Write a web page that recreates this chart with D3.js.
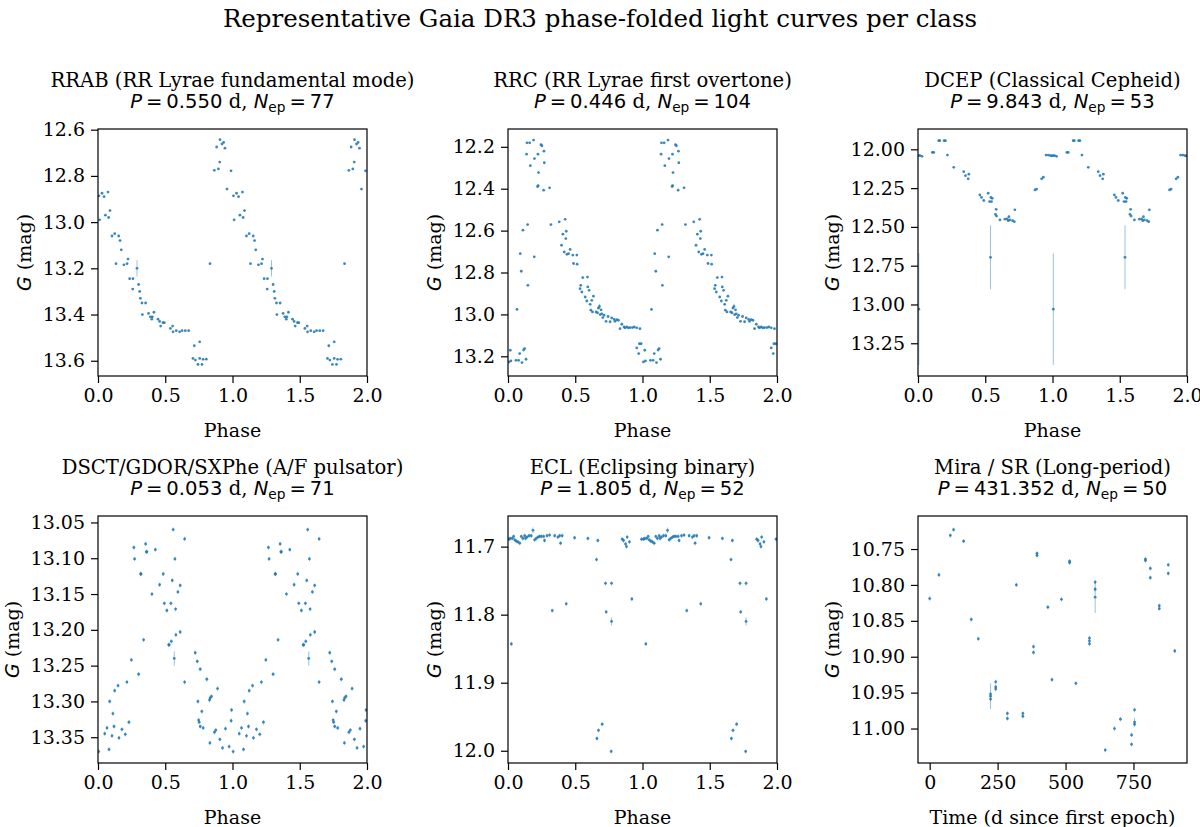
<!DOCTYPE html>
<html>
<head>
<meta charset="utf-8">
<script src="https://cdn.jsdelivr.net/npm/d3@7"></script>
<style>
  body { margin: 0; background: #fff; }
  svg { display: block; }
</style>
</head>
<body>
<svg id="fig" width="1200" height="827"></svg>
<script>
// ---- data: [phase (or time), G mag, error] ----
const rrabPoints = [
  [0.012,12.99],[0.007,12.886],[0.030,12.875],[0.045,12.89],[0.074,12.87],[0.055,12.97],
  [0.079,12.98],[0.089,12.95],[0.104,13.06],[0.124,13.05],[0.134,13.18],[0.154,13.06],
  [0.164,13.08],[0.173,13.12],[0.193,13.185],[0.216,13.18],[0.223,13.16],[0.235,13.245],
  [0.260,13.245],[0.258,13.29],[0.290,13.20,0.035],[0.302,13.27],[0.310,13.30],[0.315,13.33],
  [0.327,13.35],[0.354,13.35],[0.330,13.40],[0.376,13.395],[0.389,13.41],[0.404,13.41],
  [0.416,13.39],[0.400,13.42],[0.446,13.42],[0.458,13.43],[0.466,13.45],[0.483,13.435],
  [0.493,13.435],[0.538,13.46],[0.555,13.45],[0.558,13.475],[0.582,13.47],[0.607,13.475],
  [0.625,13.47],[0.649,13.47],[0.674,13.47],[0.716,13.535],[0.756,13.518],[0.706,13.59],
  [0.724,13.597],[0.743,13.616],[0.756,13.59],[0.773,13.616],[0.781,13.594],[0.805,13.593],
  [0.833,13.18],[0.865,12.776],[0.882,12.675],[0.895,12.77],[0.905,12.74],[0.907,12.643],
  [0.922,12.662],[0.934,12.655],[0.944,12.68],[0.959,12.857],[0.989,12.778]
];
const rrcPoints = [
  [0.017,13.171],[0.007,13.227],[0.022,13.222],[0.059,13.219],[0.067,12.976],[0.079,13.219],
  [0.087,13.187],[0.091,12.71],[0.099,12.794],[0.104,13.23],[0.111,12.598],[0.116,13.17],
  [0.124,13.163],[0.134,13.214],[0.141,12.181],[0.146,12.571],[0.148,12.861],[0.138,12.235],
  [0.161,12.181],[0.166,12.29],[0.190,12.168],[0.195,12.725],[0.197,12.256],[0.223,12.235],
  [0.227,12.323],[0.220,12.39],[0.224,12.385],[0.245,12.19],[0.252,12.195],[0.265,12.407],
  [0.267,12.221],[0.270,12.276],[0.309,12.396],[0.319,12.571],[0.381,12.558],[0.398,12.67],
  [0.408,12.617],[0.418,12.702],[0.425,12.546],[0.430,12.638],[0.433,12.603],[0.438,12.713],
  [0.450,12.71],[0.462,12.69],[0.482,12.717],[0.487,12.757],[0.512,12.717],[0.514,12.76],
  [0.536,12.877],[0.541,12.861],[0.549,12.893],[0.556,12.824],[0.574,12.917],[0.591,12.822],
  [0.593,12.869],[0.586,12.936],[0.603,12.885],[0.611,12.952],[0.616,12.98],[0.623,12.933],
  [0.628,12.988],[0.635,12.913],[0.655,12.988],[0.665,12.992],[0.672,12.97],[0.680,12.962,0.012],
  [0.685,13.001],[0.692,12.978],[0.697,12.997],[0.705,13.015],[0.714,13.004],[0.729,13.033],
  [0.744,13.01],[0.759,13.035],[0.771,13.017],[0.789,13.024],[0.796,13.033],[0.808,13.025],
  [0.821,13.028],[0.833,13.068],[0.846,13.047],[0.863,13.06],[0.870,13.064],[0.883,13.06],
  [0.895,13.064],[0.907,13.063],[0.925,13.063],[0.939,13.06],[0.957,13.064],[0.981,13.068],
  [0.957,13.16],[0.977,13.14],[0.990,13.14],[0.972,13.187]
];
const dcepPoints = [
  [0.005,12.04],[0.015,12.04],[0.030,12.045],[0.006,13.03,0.36],[0.107,12.02],[0.117,12.02],
  [0.154,11.944],[0.162,11.944],[0.194,11.944],[0.204,11.944],[0.219,12.037],[0.266,12.116],
  [0.340,12.144],[0.353,12.17],[0.373,12.19],[0.378,12.16],[0.460,12.294],[0.472,12.31],
  [0.489,12.33],[0.522,12.283],[0.532,12.337],[0.542,12.31],[0.547,12.337],[0.552,12.316],
  [0.539,12.696,0.206],[0.576,12.419],[0.581,12.387],[0.584,12.43],[0.609,12.455],[0.646,12.45],
  [0.663,12.449],[0.671,12.46],[0.676,12.434],[0.683,12.455],[0.703,12.46],[0.716,12.466],
  [0.720,12.39],[0.870,12.262],[0.882,12.256],[0.919,12.19],[0.932,12.18],[0.952,12.037],
  [0.969,12.037],[0.984,12.04],[0.994,12.042]
];
const dsctPoints = [
  [0.005,13.37],[0.050,13.345],[0.067,13.337],[0.082,13.367],[0.087,13.30],[0.104,13.348],
  [0.111,13.317],[0.119,13.335],[0.124,13.285],[0.149,13.278],[0.156,13.351],[0.178,13.339],
  [0.203,13.346],[0.215,13.273],[0.230,13.329],[0.248,13.242],[0.267,13.085],[0.272,13.101],
  [0.302,13.262],[0.317,13.122],[0.320,13.122],[0.339,13.214],[0.354,13.08],[0.359,13.091],
  [0.364,13.091],[0.401,13.15],[0.426,13.088],[0.458,13.137],[0.485,13.122],[0.493,13.163],
  [0.512,13.173],[0.525,13.221],[0.530,13.221],[0.542,13.163],[0.545,13.216],[0.552,13.131],
  [0.559,13.06],[0.567,13.24,0.01],[0.572,13.101],[0.577,13.171],[0.579,13.207],[0.594,13.147],
  [0.611,13.138],[0.611,13.203],[0.644,13.073],[0.644,13.273],[0.723,13.232],[0.738,13.244],
  [0.743,13.30],[0.748,13.326],[0.752,13.329],[0.760,13.255],[0.760,13.335],[0.772,13.314],
  [0.782,13.337],[0.809,13.269],[0.829,13.298],[0.832,13.358],[0.834,13.295],[0.844,13.293],
  [0.866,13.343],[0.876,13.34],[0.889,13.282],[0.906,13.353],[0.926,13.365],[0.948,13.338],
  [0.975,13.363],[0.990,13.327],[0.993,13.312]
];
const eclPoints = [
  [0.007,11.689],[0.017,11.688],[0.032,11.688],[0.042,11.685],[0.050,11.69],[0.062,11.692],
  [0.074,11.693],[0.087,11.695],[0.099,11.685],[0.111,11.688],[0.124,11.684],[0.131,11.688],
  [0.141,11.686],[0.156,11.684],[0.173,11.684],[0.186,11.676,0.004],[0.198,11.69],[0.210,11.688],
  [0.223,11.686],[0.235,11.685],[0.248,11.685],[0.265,11.685],[0.272,11.691],[0.290,11.684],
  [0.309,11.683],[0.347,11.684],[0.371,11.686],[0.384,11.684],[0.391,11.695],[0.403,11.684],
  [0.495,11.687],[0.594,11.688],[0.668,11.691],[0.025,11.843],[0.329,11.794],[0.433,11.784],
  [0.658,11.719],[0.661,11.982],[0.673,11.97],[0.700,11.961],[0.725,11.754],[0.730,11.796],
  [0.770,11.754],[0.770,11.81,0.006],[0.767,12.001],[0.849,11.689],[0.859,11.691],[0.874,11.696],
  [0.881,11.70],[0.886,11.686],[0.903,11.693],[0.921,11.777],[0.993,11.689]
];
const miraPoints = [
  [0,10.819],[34,10.786],[76,10.731],[88,10.723],[125,10.739],[153,10.848],[179,10.875],
  [224,10.952],[224,10.955,0.018],[224,10.959],[243,10.935],[243,10.942],[243,10.945],
  [286,10.979],[286,10.986],[319,10.80],[343,10.979],[343,10.983],[382,10.886],[382,10.894],
  [395,10.756],[395,10.759],[435,10.831],[450,10.932],[485,10.82],[515,10.767],[515,10.769],
  [538,10.937],[588,10.874],[588,10.878],[588,10.882],[609,10.796],[609,10.806],[609,10.817,0.022],
  [646,11.03],[680,11.0],[702,10.987],[743,11.009],[743,11.022],[754,10.974],[754,10.991,0.006],
  [754,10.994],[794,10.764],[794,10.766],[812,10.777],[812,10.79],[845,10.829],[845,10.833],
  [878,10.772],[878,10.784],[902,10.892]
];

const panelTitles = [
  'RRAB (RR Lyrae fundamental mode)', 'RRC (RR Lyrae first overtone)', 'DCEP (Classical Cepheid)',
  'DSCT/GDOR/SXPhe (A/F pulsator)', 'ECL (Eclipsing binary)', 'Mira / SR (Long-period)'
];
const periods = ['0.550', '0.446', '9.843', '0.053', '1.805', '431.352'];
const nEpochs = [77, 104, 53, 71, 52, 50];
const phaseTicks = [0, 0.5, 1, 1.5, 2];
const timeTicks = [0, 250, 500, 750];
const yTickSets = [
  [12.6, 12.8, 13.0, 13.2, 13.4, 13.6],
  [12.2, 12.4, 12.6, 12.8, 13.0, 13.2],
  [12.0, 12.25, 12.5, 12.75, 13.0, 13.25],
  [13.05, 13.10, 13.15, 13.20, 13.25, 13.30, 13.35],
  [11.7, 11.8, 11.9, 12.0],
  [10.75, 10.80, 10.85, 10.90, 10.95, 11.00]
];
const yFormats = ['.1f', '.1f', '.2f', '.2f', '.1f', '.2f'];
const yDomains = [
  [12.597, 13.666], [12.115, 13.294], [11.869, 13.461],
  [13.041, 13.386], [11.655, 12.018], [10.704, 11.048]
];
const allPoints = [rrabPoints, rrcPoints, dcepPoints, dsctPoints, eclPoints, miraPoints];

// ---- layout ----
const SERIF = '"DejaVu Serif", serif';
const SANS = '"DejaVu Sans", sans-serif';
const BLUE = '#1f77b4';
const colX = [98, 508, 918];
const rowY = [129, 516];
const W = 269;
const H = 247;
const TICK_LEN = 7;
const TICK_PAD = 6;
const TICK_FS = 19;
const LABEL_FS = 19;
const TITLE_FS = 19.6;
const DEFAULT_ERR = 0.003;

const svg = d3.select('#fig');

svg.append('text')
  .attr('x', 600).attr('y', 27)
  .attr('text-anchor', 'middle')
  .style('font-family', SERIF).style('font-size', '24.5px')
  .text('Representative Gaia DR3 phase-folded light curves per class');

function mathLine(sel, period, n) {
  sel.append('tspan').style('font-family', SANS).style('font-style', 'italic').text('P');
  sel.append('tspan').style('font-family', SANS).text(`\u2009=\u2009${period}`);
  sel.append('tspan').style('font-family', SERIF).text(' d, ');
  sel.append('tspan').style('font-family', SANS).style('font-style', 'italic').text('N');
  sel.append('tspan').style('font-family', SANS).style('font-size', '0.7em').attr('dy', 4).text('ep');
  sel.append('tspan').style('font-family', SANS).attr('dy', -4).text(`\u2009=\u2009${n}`);
}

allPoints.forEach((pts, i) => {
  const col = i % 3;
  const row = Math.floor(i / 3);
  const isTime = i === 5;
  const x0 = colX[col];
  const y0 = rowY[row];

  const x = d3.scaleLinear()
    .domain(isTime ? [-43, 947] : [0, 2])
    .range([0, W]);
  const y = d3.scaleLinear().domain(yDomains[i]).range([0, H]);

  const g = svg.append('g').attr('transform', `translate(${x0},${y0})`);

  g.append('clipPath').attr('id', `clip${i}`)
    .append('rect').attr('width', W).attr('height', H);

  // phase-folded panels repeat each epoch at phase + 1
  const drawn = isTime ? pts : pts.concat(pts.map(d => [d[0] + 1, d[1], d[2]]));

  const $vis = g.append('g').attr('clip-path', `url(#clip${i})`);

  $vis.selectAll('line.err')
    .data(drawn)
    .join('line')
    .attr('class', 'err')
    .attr('x1', d => x(d[0])).attr('x2', d => x(d[0]))
    .attr('y1', d => y(d[1] - (d[2] || DEFAULT_ERR)))
    .attr('y2', d => y(d[1] + (d[2] || DEFAULT_ERR)))
    .attr('stroke', BLUE)
    .attr('stroke-opacity', 0.45)
    .attr('stroke-width', 1);

  $vis.selectAll('circle')
    .data(drawn)
    .join('circle')
    .attr('cx', d => x(d[0]))
    .attr('cy', d => y(d[1]))
    .attr('r', 1.4)
    .attr('fill', BLUE)
    .attr('fill-opacity', 0.85);

  // axes
  const xAxis = d3.axisBottom(x)
    .tickValues(isTime ? timeTicks : phaseTicks)
    .tickFormat(isTime ? d3.format('d') : d3.format('.1f'))
    .tickSizeInner(TICK_LEN).tickSizeOuter(0).tickPadding(TICK_PAD);
  const yAxis = d3.axisLeft(y)
    .tickValues(yTickSets[i])
    .tickFormat(d3.format(yFormats[i]))
    .tickSizeInner(TICK_LEN).tickSizeOuter(0).tickPadding(TICK_PAD);

  const $xa = g.append('g').attr('transform', `translate(0,${H})`).call(xAxis);
  const $ya = g.append('g').call(yAxis);
  [$xa, $ya].forEach($a => {
    $a.select('.domain').remove();
    $a.selectAll('line').attr('stroke', '#000').attr('stroke-width', 1.2);
    $a.selectAll('text')
      .attr('fill', '#000')
      .style('font-family', SERIF)
      .style('font-size', `${TICK_FS}px`);
  });

  g.append('rect')
    .attr('width', W).attr('height', H)
    .attr('fill', 'none').attr('stroke', '#000').attr('stroke-width', 1.2);

  // x label
  g.append('text')
    .attr('x', W / 2).attr('y', H + 61)
    .attr('text-anchor', 'middle')
    .style('font-family', SERIF).style('font-size', `${LABEL_FS}px`)
    .text(isTime ? 'Time (d since first epoch)' : 'Phase');

  // y label, placed left of the widest tick label
  const tickW = d3.max($ya.selectAll('text').nodes(), n => n.getBBox().width);
  const labelX = -(TICK_LEN + TICK_PAD + tickW + 8 + 4);
  const $yl = g.append('text')
    .attr('transform', `translate(${labelX},${H / 2}) rotate(-90)`)
    .attr('text-anchor', 'middle')
    .style('font-size', `${LABEL_FS}px`);
  $yl.append('tspan').style('font-family', SANS).style('font-style', 'italic').text('G');
  $yl.append('tspan').style('font-family', SERIF).text(' (mag)');

  // titles
  g.append('text')
    .attr('x', W / 2).attr('y', -42)
    .attr('text-anchor', 'middle')
    .style('font-family', SERIF).style('font-size', `${TITLE_FS}px`)
    .text(panelTitles[i]);
  const $t2 = g.append('text')
    .attr('x', W / 2).attr('y', -21)
    .attr('text-anchor', 'middle')
    .style('font-size', `${TITLE_FS}px`);
  mathLine($t2, periods[i], nEpochs[i]);
});
</script>
</body>
</html>
